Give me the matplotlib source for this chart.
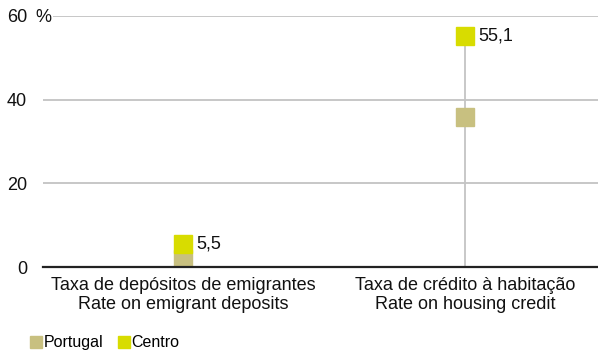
import matplotlib
matplotlib.use("Agg")
import matplotlib.pyplot as plt
from matplotlib.lines import Line2D

categories = ["Taxa de depósitos de emigrantes\nRate on emigrant deposits",
              "Taxa de crédito à habitação\nRate on housing credit"]
portugal = [2.0, 35.8]
centro = [5.5, 55.1]
centro_labels = ["5,5", "55,1"]
yticks = [0, 20, 40, 60]

c_pt = "#c8c080"
c_ce = "#d8dc00"

plt.rcParams["font.family"] = ["Liberation Sans", "DejaVu Sans"]

fig = plt.figure(figsize=(5.98, 3.52), dpi=100)
ax = fig.add_axes([43 / 598, (352 - 267) / 352, 1 - 43 / 598, 251 / 352])

x = list(range(len(categories)))

# drop lines from the highest value to zero
ax.vlines(x, 0, [max(p, c) for p, c in zip(portugal, centro)],
          color="#c4c4c4", lw=1.3, zorder=2)

ax.plot(x, portugal, ls="none", marker="s", ms=13.5, mfc=c_pt, mec=c_pt, zorder=3)
ax.plot(x, centro, ls="none", marker="s", ms=13.5, mfc=c_ce, mec=c_ce, zorder=4)

for xi, v, lab in zip(x, centro, centro_labels):
    ax.annotate(lab, (xi, v), xytext=(10, 0), textcoords="offset points",
                va="center", ha="left", fontsize=13, color="#111111")

ax.set_xlim(-0.496, 1.472)
ax.set_ylim(0, 60)
ax.set_yticks(yticks)
ax.set_yticklabels([str(t) for t in yticks])
ax.set_xticks(x)
ax.set_xticklabels(categories, fontsize=13, color="#111111", linespacing=1.1)

for s in ["top", "right", "left"]:
    ax.spines[s].set_visible(False)
ax.spines["bottom"].set_color("#222222")
ax.spines["bottom"].set_linewidth(1.6)
ax.spines["bottom"].set_zorder(5)

ax.tick_params(axis="y", length=0, pad=11.5, labelsize=13, labelcolor="#111111")
ax.tick_params(axis="x", length=0, pad=7.5)

ax.grid(axis="y", color="#b8b8b8", lw=1.1)
ax.set_axisbelow(True)

# unit next to the top tick label
fig.text(35 / 598, 1 - 16 / 352, "%", fontsize=13, va="center_baseline", ha="left",
         color="#111111", bbox=dict(facecolor="white", edgecolor="none", pad=1.5))

handles = [Line2D([], [], ls="none", marker="s", ms=8, mfc=c_pt, mec=c_pt),
           Line2D([], [], ls="none", marker="s", ms=8, mfc=c_ce, mec=c_ce)]
fig.legend(handles, ["Portugal", "Centro"], loc="lower left",
           bbox_to_anchor=(21 / 598, -8 / 352), ncol=2, frameon=False,
           fontsize=11.5, handlelength=0.7, handletextpad=0.15, columnspacing=0.9,
           borderaxespad=0.2)

fig.savefig("out.png", dpi=100)
